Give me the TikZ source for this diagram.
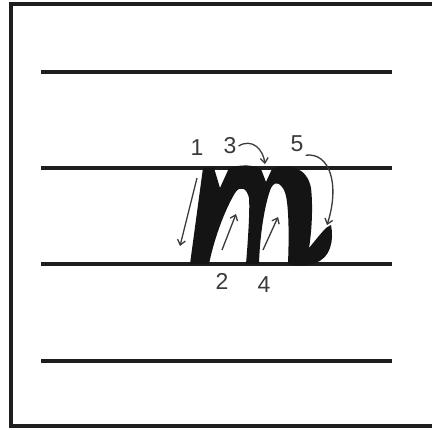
\documentclass[tikz,border=0pt]{standalone}
\usepackage{fontspec}
\setmainfont{Liberation Sans}
\usepackage{tikz}
\usetikzlibrary{arrows.meta}
\definecolor{inkBlack}{HTML}{141414}
\definecolor{ruleBlack}{HTML}{1E1E1E}
\definecolor{hintGray}{HTML}{3A3A3A}

\begin{document}
\begin{tikzpicture}[x=1pt, y=-1pt,
  rule/.style={ruleBlack, line width=3.4pt},
  hint/.style={hintGray, line width=1.3pt, -{Straight Barb[length=5pt,width=8pt]}},
  digit/.style={hintGray, font=\fontsize{23}{23}\selectfont, inner sep=0pt}]
\useasboundingbox (0,0) rectangle (432,430);
\clip (0,0) rectangle (432,430);
% ---------- frame and writing lines ----------
\fill[white] (0,0) rectangle (432,430);
\draw[ruleBlack, line width=4pt] (11,4) rectangle (445,426);
\foreach \yy in {72,168,264,361}
  \draw[rule] (41,\yy) -- (392,\yy);
% ---------- the letter m ----------
\fill[inkBlack] (190,264) -- (203,168) -- (214,168) -- (220,188) -- (229,168)
  .. controls (242,164) and (254,165) .. (261,169)
  -- (266,182) -- (272,169)
  .. controls (289,163) and (307,167) .. (311,188)
  .. controls (313,205) and (312,230) .. (309,248)
  .. controls (314,242) and (321,233) .. (326,228)
  -- (331,225)
  .. controls (334,240) and (331,258) .. (315,263)
  .. controls (303,267) and (292,266) .. (288,263)
  .. controls (289,240) and (289,210) .. (286,196)
  .. controls (284,186) and (276,178) .. (271,188)
  .. controls (266,200) and (260,230) .. (259,264)
  -- (246,264)
  .. controls (248,240) and (250,210) .. (249,198)
  .. controls (247,188) and (240,185) .. (235,193)
  .. controls (226,208) and (215,235) .. (209,264)
  -- cycle;
% ---------- stroke numbers ----------
\node[digit] (n1) at (197,148) {1};
\node[digit] (n3) at (230,146) {3};
\node[digit] (n5) at (297,144) {5};
\node[digit] (n2) at (222,281) {2};
\node[digit] (n4) at (264,285) {4};
% ---------- direction arrows ----------
\coordinate (tip3) at (265,164);
\coordinate (tip5) at (327,225);
\draw[hint] (197,178) -- (180,246);
\draw[hint] (222,250) -- (236,214);
\draw[hint] (263,250) -- (278,217);
\draw[hint] ([xshift=2pt]n3.east) .. controls (252,138) and (263,149) .. (tip3);
\draw[hint] ([xshift=2pt,yshift=-3pt]n5.south east) .. controls (330,152) and (340,185) .. (tip5);
\end{tikzpicture}
\end{document}
